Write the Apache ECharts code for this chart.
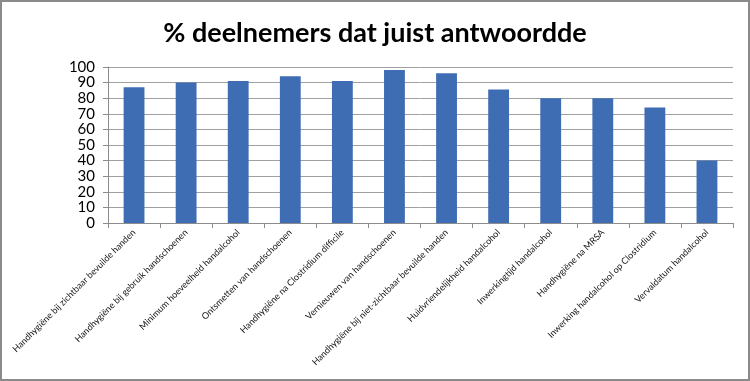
<!DOCTYPE html>
<html><head><meta charset="utf-8">
<script src="https://cdn.jsdelivr.net/npm/echarts@6/dist/echarts.min.js"></script>
<style>html,body{margin:0;padding:0;background:#fff}#c{width:750px;height:381px;box-sizing:border-box;border:2px solid #8a8a8a}</style>
</head><body><div id="c"></div>
<script>
const titleText = '% deelnemers dat juist antwoordde';
const categories = [
  'Handhygiëne bij zichtbaar bevuilde handen',
  'Handhygiëne bij gebruik handschoenen',
  'Minimum hoeveelheid handalcohol',
  'Ontsmetten van handschoenen',
  'Handhygiëne na Clostridium difficile',
  'Vernieuwen van handschoenen',
  'Handhygiëne bij niet-zichtbaar bevuilde handen',
  'Huidvriendelijkheid handalcohol',
  'Inwerkingtijd handalcohol',
  'Handhygiëne na MRSA',
  'Inwerking handalcohol op Clostridium',
  'Vervaldatum handalcohol'
];
const values = [87, 90, 91, 94, 91, 98, 96, 85.5, 80, 80, 74, 40];
const yTicks = {min: 0, max: 100, interval: 10};

const chart = echarts.init(document.getElementById('c'), null, {renderer: 'canvas'});
chart.setOption({
  animation: false,
  title: {
    text: titleText, left: 'center', top: 13,
    textStyle: {fontFamily: 'Lato', fontWeight: 'bold', fontSize: 27, color: '#000'}
  },
  grid: {left: 106, right: 15, top: 65, bottom: 156, containLabel: false},
  xAxis: {
    type: 'category', data: categories,
    axisLine: {lineStyle: {color: '#8c8c8c'}},
    axisTick: {show: true, alignWithLabel: false, length: 5, lineStyle: {color: '#8c8c8c'}},
    axisLabel: {interval: 0, rotate: 45, fontFamily: 'Lato', fontSize: 9, color: '#111', margin: 8}
  },
  yAxis: {
    type: 'value', min: yTicks.min, max: yTicks.max, interval: yTicks.interval,
    axisLine: {show: true, lineStyle: {color: '#8c8c8c'}},
    axisTick: {show: true, length: 5, lineStyle: {color: '#8c8c8c'}},
    axisLabel: {fontFamily: 'Lato', fontSize: 15, color: '#000', margin: 13},
    splitLine: {lineStyle: {color: '#a0a0a0', width: 1}}
  },
  series: [{
    type: 'bar', data: values, barWidth: '40%',
    itemStyle: {color: '#3e6db3'}
  }]
});
</script></body></html>
